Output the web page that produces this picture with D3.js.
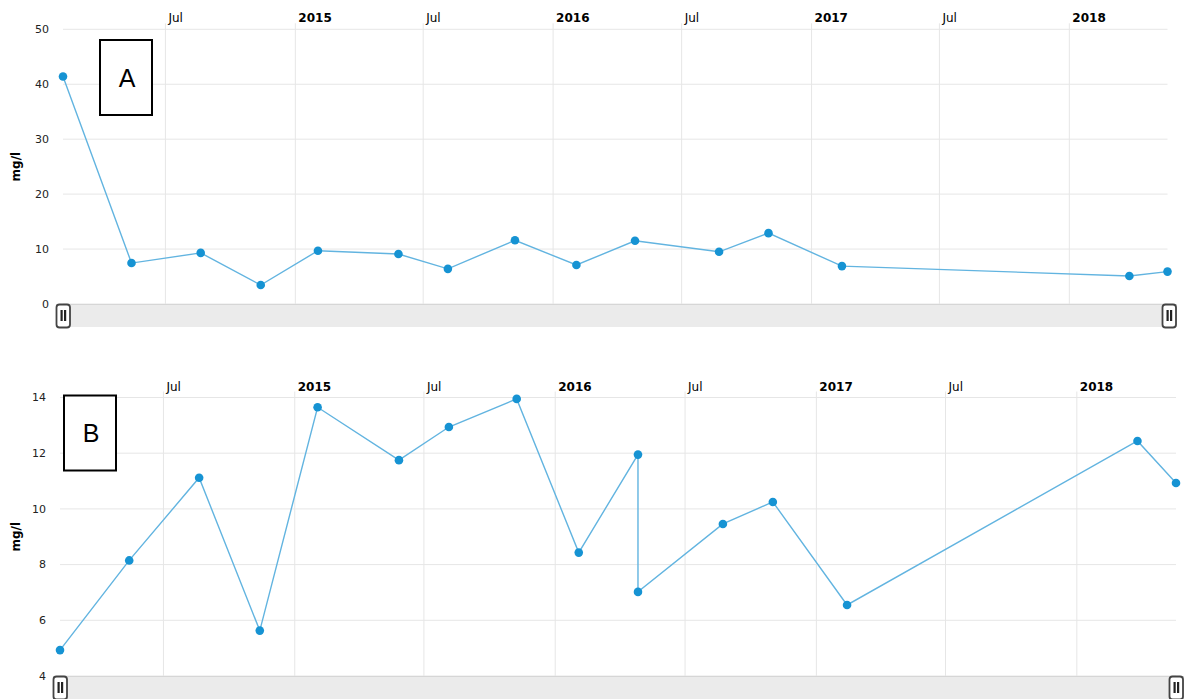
<!DOCTYPE html>
<html><head><meta charset="utf-8">
<script src="https://cdn.jsdelivr.net/npm/d3@7"></script>
<style>
html,body{margin:0;padding:0;background:#fff;}
svg{display:block;}
</style></head>
<body>
<svg id="chart" width="1184" height="699"></svg>
<script>
// ---- data ----
const datesA = ["2014-02-06","2014-05-14","2014-08-20","2014-11-13","2015-02-02","2015-05-27","2015-08-05","2015-11-08","2016-02-03","2016-04-26","2016-08-23","2016-11-01","2017-02-13","2018-03-27","2018-05-20"];
const valuesA = [41.4, 7.45, 9.3, 3.45, 9.7, 9.1, 6.4, 11.6, 7.1, 11.5, 9.5, 12.9, 6.9, 5.1, 5.9];
const datesB = ["2014-02-06","2014-05-14","2014-08-20","2014-11-13","2015-02-02","2015-05-27","2015-08-05","2015-11-08","2016-02-03","2016-04-26","2016-04-26","2016-08-23","2016-11-01","2017-02-13","2018-03-27","2018-05-20"];
const valuesB = [4.93, 8.15, 11.12, 5.63, 13.65, 11.75, 12.94, 13.95, 8.43, 11.95, 7.02, 9.46, 10.25, 6.55, 12.44, 10.93];
const xTickDates = ["2014-07-01","2015-01-01","2015-07-01","2016-01-01","2016-07-01","2017-01-01","2017-07-01","2018-01-01"];
const yTicksA = [0, 10, 20, 30, 40, 50];
const yTicksB = [4, 6, 8, 10, 12, 14];
const unitLabel = "mg/l";
const panelLabels = ["A", "B"];

const parse = d3.timeParse("%Y-%m-%d");
const svg = d3.select("#chart");
const FONT = "DejaVu Sans, Verdana, sans-serif";

function drawPanel(cfg) {
  const dates = cfg.dates.map(parse);
  const data = dates.map((d, i) => ({date: d, value: cfg.values[i]}));
  const x = d3.scaleTime().domain(d3.extent(dates)).range([cfg.left, cfg.right]);
  const y = d3.scaleLinear().domain(cfg.yDomain).range([cfg.bottom, cfg.top]);
  const g = svg.append("g");

  // horizontal grid
  g.append("g").selectAll("line").data(cfg.yTicks).join("line")
    .attr("x1", cfg.left).attr("x2", cfg.right)
    .attr("y1", d => y(d)).attr("y2", d => y(d))
    .attr("stroke", "#e6e6e6").attr("stroke-width", 1);

  // vertical grid + labels
  const tds = xTickDates.map(parse);
  g.append("g").selectAll("line").data(tds).join("line")
    .attr("x1", d => x(d)).attr("x2", d => x(d))
    .attr("y1", cfg.top - 6).attr("y2", cfg.bottom)
    .attr("stroke", "#e6e6e6").attr("stroke-width", 1);
  g.append("g").selectAll("text").data(tds).join("text")
    .attr("x", d => x(d) + 3).attr("y", cfg.top - 7)
    .attr("font-family", FONT).attr("font-size", 12)
    .attr("font-weight", d => d.getMonth() === 0 ? "bold" : "normal")
    .attr("fill", "#000")
    .text(d => d.getMonth() === 0 ? d3.timeFormat("%Y")(d) : d3.timeFormat("%b")(d));

  // y tick labels
  g.append("g").selectAll("text").data(cfg.yTicks).join("text")
    .attr("x", cfg.labelRight).attr("y", d => y(d)).attr("dy", "0.35em")
    .attr("text-anchor", "end")
    .attr("font-family", FONT).attr("font-size", 11).attr("fill", "#222")
    .text(d => d);

  // y axis title
  g.append("text")
    .attr("transform", `translate(${cfg.titleX},${(cfg.top + cfg.bottom) / 2}) rotate(-90)`)
    .attr("text-anchor", "middle")
    .attr("font-family", FONT).attr("font-size", 12).attr("font-weight", "bold")
    .attr("fill", "#000").text(unitLabel);

  // scrollbar
  const sb = g.append("g");
  sb.append("rect").attr("x", cfg.sbLeft).attr("y", cfg.bottom)
    .attr("width", cfg.sbRight - cfg.sbLeft).attr("height", 23).attr("fill", "#ebebeb");
  sb.append("line").attr("x1", cfg.sbLeft).attr("x2", cfg.sbRight)
    .attr("y1", cfg.bottom + 0.5).attr("y2", cfg.bottom + 0.5)
    .attr("stroke", "#d6d6d6");
  [cfg.sbLeft + 0.5, cfg.sbRight - 14.5].forEach(hx => {
    sb.append("rect").attr("x", hx).attr("y", cfg.bottom + 0.5)
      .attr("width", 13.5).attr("height", 23).attr("rx", 3)
      .attr("fill", "#fff").attr("stroke", "#444").attr("stroke-width", 1.8);
    [4, 7.5].forEach(o => sb.append("rect").attr("x", hx + o).attr("y", cfg.bottom + 6)
      .attr("width", 2.2).attr("height", 11).attr("fill", "#222"));
  });

  // line
  g.append("path").datum(data)
    .attr("d", d3.line().x(d => x(d.date)).y(d => y(d.value)))
    .attr("fill", "none").attr("stroke", "#62b4e0").attr("stroke-width", 1.4);
  g.append("g").selectAll("circle").data(data).join("circle")
    .attr("cx", d => x(d.date)).attr("cy", d => y(d.value)).attr("r", 4.3)
    .attr("fill", "#1693d3");

  // panel label box
  g.append("rect").attr("x", cfg.box[0]).attr("y", cfg.box[1])
    .attr("width", cfg.box[2]).attr("height", cfg.box[3])
    .attr("fill", "#fff").attr("stroke", "#000").attr("stroke-width", 2);
  g.append("text").attr("x", cfg.box[0] + cfg.box[2] / 2 + 1).attr("y", cfg.box[1] + cfg.box[3] / 2 + 9)
    .attr("text-anchor", "middle")
    .attr("font-family", "Liberation Sans, Arial, sans-serif").attr("font-size", 25)
    .attr("fill", "#000").text(cfg.label);
}

drawPanel({dates: datesA, values: valuesA, yDomain: [0, 50], yTicks: yTicksA,
  left: 63, right: 1167.5, top: 29.3, bottom: 304, labelRight: 49, titleX: 20,
  sbLeft: 56, sbRight: 1177, box: [100, 40, 52, 75], label: panelLabels[0]});
drawPanel({dates: datesB, values: valuesB, yDomain: [4, 14], yTicks: yTicksB,
  left: 60, right: 1176, top: 397.5, bottom: 676, labelRight: 46, titleX: 20,
  sbLeft: 53, sbRight: 1184, box: [64, 395.5, 52, 75], label: panelLabels[1]});
</script>
</body></html>
